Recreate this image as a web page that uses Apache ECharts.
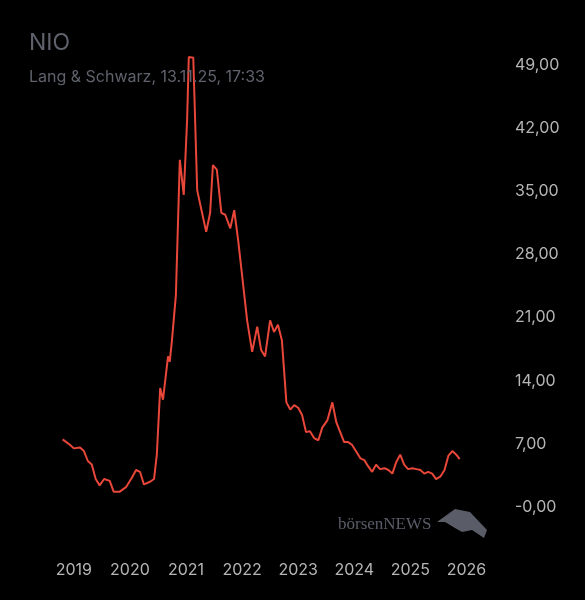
<!DOCTYPE html>
<html><head><meta charset="utf-8">
<script src="https://cdn.jsdelivr.net/npm/echarts@6/dist/echarts.min.js"></script>
<style>html,body{margin:0;background:#000}#c{width:585px;height:600px}</style>
</head><body><div id="c"></div>
<script>
const years=[2018.80,2018.93,2019.00,2019.11,2019.18,2019.25,2019.32,2019.39,2019.46,2019.54,2019.64,2019.71,2019.82,2019.93,2020.04,2020.11,2020.18,2020.25,2020.36,2020.43,2020.48,2020.54,2020.59,2020.68,2020.71,2020.75,2020.82,2020.89,2020.96,2021.02,2021.05,2021.13,2021.20,2021.27,2021.36,2021.43,2021.48,2021.55,2021.63,2021.70,2021.79,2021.86,2021.93,2022.00,2022.09,2022.18,2022.27,2022.34,2022.41,2022.50,2022.57,2022.64,2022.71,2022.79,2022.86,2022.93,2023.00,2023.07,2023.14,2023.21,2023.29,2023.36,2023.43,2023.52,2023.61,2023.68,2023.75,2023.82,2023.89,2023.96,2024.04,2024.11,2024.18,2024.25,2024.32,2024.39,2024.46,2024.54,2024.61,2024.68,2024.75,2024.82,2024.89,2024.96,2025.04,2025.11,2025.18,2025.25,2025.32,2025.39,2025.46,2025.54,2025.61,2025.68,2025.75,2025.82,2025.88];
const prices=[7.5,6.9,6.5,6.6,6.2,5.1,4.7,3.1,2.4,3.1,2.9,1.7,1.7,2.2,3.3,4.1,3.9,2.5,2.8,3.1,5.8,13.2,11.9,16.7,16.1,18.5,23.5,38.5,34.6,42.9,49.9,49.8,35.1,33.1,30.5,32.6,37.9,37.4,32.6,32.4,30.9,32.9,29.6,25.7,20.7,17.2,20.0,17.4,16.7,20.7,19.4,20.2,18.5,11.6,10.8,11.3,11.0,10.2,8.3,8.4,7.6,7.4,8.8,9.6,11.6,9.4,8.3,7.2,7.2,6.9,6.1,5.4,5.2,4.5,3.9,4.7,4.2,4.3,4.1,3.7,5.0,5.8,4.7,4.2,4.3,4.2,4.1,3.7,3.9,3.7,3.1,3.4,4.1,5.7,6.2,5.8,5.3];
const yearTicks=[2019,2020,2021,2022,2023,2024,2025,2026];
const priceTicks=[0,7,14,21,28,35,42,49];
const title='NIO', subtitle='Lang & Schwarz, 13.11.25, 17:33';
const ch=echarts.init(document.getElementById('c'));
ch.setOption({
 backgroundColor:'#000',animation:false,
 title:{text:title,subtext:subtitle,left:24,top:27,itemGap:14,
  textStyle:{color:'#5f626c',fontSize:23,fontWeight:'normal',fontFamily:'Inter'},
  subtextStyle:{color:'#5f626c',fontSize:16,fontFamily:'Inter'}},
 grid:{left:57,right:113,top:47,bottom:93},
 xAxis:{type:'value',min:2018.7,max:2026.1,
  axisLine:{show:false},axisTick:{show:false},splitLine:{show:false},
  axisLabel:{color:'#b5b5b5',fontSize:16,fontFamily:'Inter',margin:55,
   customValues:yearTicks,formatter:v=>String(Math.round(v))}},
 yAxis:{type:'value',position:'right',min:0,max:51,
  axisLine:{show:false},axisTick:{show:false},splitLine:{show:false},
  axisLabel:{color:'#b5b5b5',fontSize:16,fontFamily:'Inter',margin:43,customValues:priceTicks,
   formatter:v=>(v===0?'-0,00':v.toFixed(2).replace('.',','))}},
 graphic:[{type:'text',left:338,top:516,style:{text:'börsenNEWS',fill:'#5a5c68',fontSize:17,fontFamily:'Liberation Serif'}},
  {type:'polygon',shape:{points:[[437,522],[455,509],[470,512],[487,530],[484,538],[472,530],[462,532],[455,528],[445,522]]},style:{fill:'#5a5c68'}}],
 series:[{type:'line',data:years.map((y,i)=>[y,prices[i]]),showSymbol:false,
  lineStyle:{color:'#e8473a',width:2}}]
});
</script></body></html>
